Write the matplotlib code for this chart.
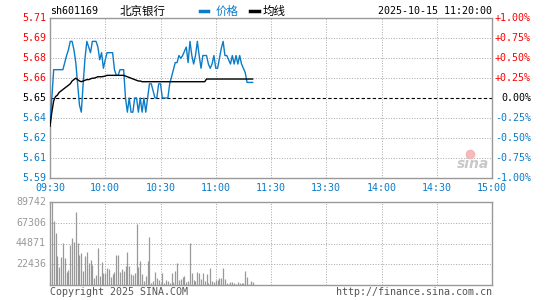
import matplotlib.pyplot as plt
import numpy as np
from matplotlib.lines import Line2D

# previous close and minute data (09:30 .. 11:20)
prev_close = 5.65

price = [
    5.632, 5.650, 5.670, 5.670, 5.670, 5.670, 5.670, 5.670, 5.675, 5.680,
    5.684, 5.690, 5.690, 5.684, 5.675, 5.660, 5.645, 5.640, 5.660, 5.678,
    5.690, 5.686, 5.682, 5.690, 5.690, 5.690, 5.686, 5.677, 5.682, 5.671,
    5.677, 5.682, 5.682, 5.682, 5.682, 5.670, 5.666, 5.666, 5.670, 5.670,
    5.670, 5.650, 5.640, 5.650, 5.640, 5.640, 5.650, 5.650, 5.640, 5.650,
    5.640, 5.650, 5.640, 5.650, 5.660, 5.660, 5.655, 5.650, 5.650, 5.660,
    5.660, 5.650, 5.650, 5.650, 5.650, 5.660, 5.665, 5.670, 5.675, 5.675,
    5.680, 5.678, 5.680, 5.683, 5.686, 5.675, 5.690, 5.680, 5.674, 5.680,
    5.690, 5.680, 5.671, 5.680, 5.680, 5.680, 5.674, 5.671, 5.674, 5.680,
    5.671, 5.671, 5.678, 5.685, 5.690, 5.680, 5.680, 5.677, 5.674, 5.680,
    5.674, 5.680, 5.674, 5.680, 5.674, 5.671, 5.668, 5.661, 5.661, 5.661, 5.661,
]

avg_price = [
    5.630, 5.640, 5.648, 5.651, 5.652, 5.654, 5.655, 5.656, 5.657, 5.658,
    5.659, 5.660, 5.662, 5.663, 5.664, 5.663, 5.662, 5.6615, 5.662, 5.6625,
    5.663, 5.663, 5.6635, 5.664, 5.664, 5.6645, 5.665, 5.665, 5.665, 5.6652,
    5.6655, 5.666, 5.666, 5.666, 5.666, 5.666, 5.666, 5.666, 5.666, 5.666,
    5.666, 5.6655, 5.665, 5.6645, 5.664, 5.6635, 5.663, 5.6625, 5.662, 5.662,
    5.6615, 5.6615, 5.6615, 5.6615, 5.6615, 5.6615, 5.6615, 5.6615, 5.6615, 5.6615,
    5.6615, 5.6615, 5.6615, 5.6615, 5.6615, 5.6615, 5.6615, 5.6615, 5.6615, 5.6615,
    5.6615, 5.6615, 5.6615, 5.6615, 5.6615, 5.6615, 5.6615, 5.6615, 5.6615, 5.6615,
    5.6615, 5.6615, 5.6615, 5.6615, 5.6615, 5.6634, 5.6634, 5.6634, 5.6634, 5.6634,
    5.6634, 5.6634, 5.6634, 5.6634, 5.6634, 5.6634, 5.6634, 5.6634, 5.6634, 5.6634,
    5.6634, 5.6634, 5.6634, 5.6634, 5.6634, 5.6634, 5.6634, 5.6634, 5.6634, 5.6634, 5.6634,
]

volume = [
    18000, 89742, 69000, 56000, 31000, 19800, 30600, 45000, 28800, 14400,
    16200, 43200, 50400, 46800, 79000, 45800, 32400, 34200, 15500, 31300,
    36000, 23400, 27000, 21600, 7200, 10800, 40300, 9700, 24900, 13300,
    13300, 18000, 17300, 9000, 11900, 14400, 32400, 32400, 14400, 17300,
    15500, 20500, 36000, 20900, 11900, 10800, 13300, 66000, 19800, 26300,
    11900, 4700, 9700, 26300, 52300, 1800, 4700, 14400, 7900, 5400,
    2500, 13300, 2500, 5400, 4700, 2500, 13300, 3200, 15100, 24100,
    5400, 6100, 8300, 9700, 3200, 4700, 45000, 13300, 5400, 4300,
    14400, 13300, 6500, 13300, 4300, 11900, 2500, 18000, 4300, 3600,
    5400, 5400, 7600, 7200, 18000, 6100, 2500, 1400, 3200, 3200,
    2500, 1400, 2900, 2500, 2500, 2500, 15100, 9000, 1400, 4000, 3200,
]

time_labels = ["09:30", "10:00", "10:30", "11:00", "11:30", "13:30", "14:00", "14:30", "15:00"]
pct_steps = [1.0, 0.75, 0.5, 0.25, 0.0, -0.25, -0.5, -0.75, -1.0]
price_labels = ["5.71", "5.69", "5.68", "5.66", "5.65", "5.64", "5.62", "5.61", "5.59"]
pct_labels = ["+1.00%", "+0.75%", "+0.50%", "+0.25%", "0.00%", "-0.25%", "-0.50%", "-0.75%", "-1.00%"]
vol_max = 89742
vol_ticks = [89742, 67306, 44871, 22436]

BLUE = "#0a7cc8"
RED = "#ff0000"
GREY = "#999999"
MONO = "DejaVu Sans Mono"
CJK = ["Noto Sans CJK SC", "DejaVu Sans"]
FS = 7.2

W, H = 545, 300
def fx(x):
    return x / W
def fy(y):
    return 1 - y / H

fig = plt.figure(figsize=(5.45, 3.0), dpi=100)
ax = fig.add_axes([fx(50), fy(178), 442 / W, 160 / H])
axv = fig.add_axes([fx(50), fy(285), 442 / W, 83 / H])

minutes = np.arange(len(price))
grid_x = np.arange(0, 241, 30)
grid_y = [prev_close * (1 + p / 100) for p in pct_steps]

# price panel
for a in (ax, axv):
    a.set_xlim(0, 240)
    a.set_xticks([])
    a.set_yticks([])
    for s in a.spines.values():
        s.set_color(GREY)
        s.set_linewidth(1)
    for gx in grid_x[1:-1]:
        a.axvline(gx, color="#aaaaaa", lw=0.72, ls=(0, (1, 1.6)), zorder=1)

ax.set_ylim(grid_y[-1], grid_y[0])
for gy, p in zip(grid_y[1:-1], pct_steps[1:-1]):
    if p == 0:
        ax.axhline(gy, color="black", lw=0.8, ls=(0, (3, 2)), zorder=1)
    else:
        ax.axhline(gy, color="#aaaaaa", lw=0.72, ls=(0, (1, 1.6)), zorder=1)

ax.plot(minutes, price, color=BLUE, lw=1.0, zorder=3)
ax.plot(minutes, avg_price, color="black", lw=1.0, zorder=4)

for gy, p, pl, cl in zip(grid_y, pct_steps, price_labels, pct_labels):
    c = RED if p > 0 else ("black" if p == 0 else BLUE)
    ax.text(-0.009, gy, pl, transform=ax.get_yaxis_transform(), ha="right", va="center",
            color=c, family=MONO, fontsize=FS)
    ax.text(1.088, gy, cl, transform=ax.get_yaxis_transform(), ha="right", va="center",
            color=c, family=MONO, fontsize=FS)

for gx, tl in zip(grid_x, time_labels):
    ax.text(gx, -0.0625, tl, transform=ax.get_xaxis_transform(), ha="center", va="center",
            color=BLUE, family=MONO, fontsize=FS)

# volume panel
axv.set_ylim(0, vol_max)
for vt in vol_ticks[1:]:
    axv.axhline(vt, color="#aaaaaa", lw=0.72, ls=(0, (1, 1.6)), zorder=1)
axv.vlines(np.arange(len(volume)), 0, volume, color=GREY, lw=0.9, zorder=3)
for vt in vol_ticks:
    axv.text(-0.009, vt, str(vt), transform=axv.get_yaxis_transform(), ha="right", va="center",
             color=GREY, family=MONO, fontsize=FS)

# header
fig.text(fx(50), fy(11.5), "sh601169", ha="left", va="center", family=MONO, fontsize=FS)
fig.text(fx(120), fy(11.5), "北京银行", ha="left", va="center", family=CJK, fontsize=8.3)
fig.add_artist(Line2D([fx(200), fx(208)], [fy(11), fy(11)], color=BLUE, lw=2.5))
fig.text(fx(216), fy(11.5), "价格", ha="left", va="center", family=CJK, fontsize=8.3, color=BLUE)
fig.add_artist(Line2D([fx(250), fx(259)], [fy(11), fy(11)], color="black", lw=2.5))
fig.text(fx(263), fy(11.5), "均线", ha="left", va="center", family=CJK, fontsize=8.3)
fig.text(fx(492), fy(11.5), "2025-10-15 11:20:00", ha="right", va="center", family=MONO, fontsize=FS)

# footer
fig.text(fx(50), fy(292), "Copyright 2025 SINA.COM", ha="left", va="center",
         family=MONO, fontsize=FS, color="#555555")
fig.text(fx(492), fy(292), "http://finance.sina.com.cn", ha="right", va="center",
         family=MONO, fontsize=FS, color="#555555")

# watermark logo
fig.text(fx(473), fy(164), "sina", ha="center", va="center", family="DejaVu Sans",
         fontsize=10, fontweight="bold", style="italic", color="#c8c8c8")
fig.add_artist(Line2D([fx(470)], [fy(154)], marker="o", markersize=6,
                      color="#f4b4b4", markeredgecolor="#f4b4b4", alpha=0.9))

fig.savefig("out.png", dpi=100)
